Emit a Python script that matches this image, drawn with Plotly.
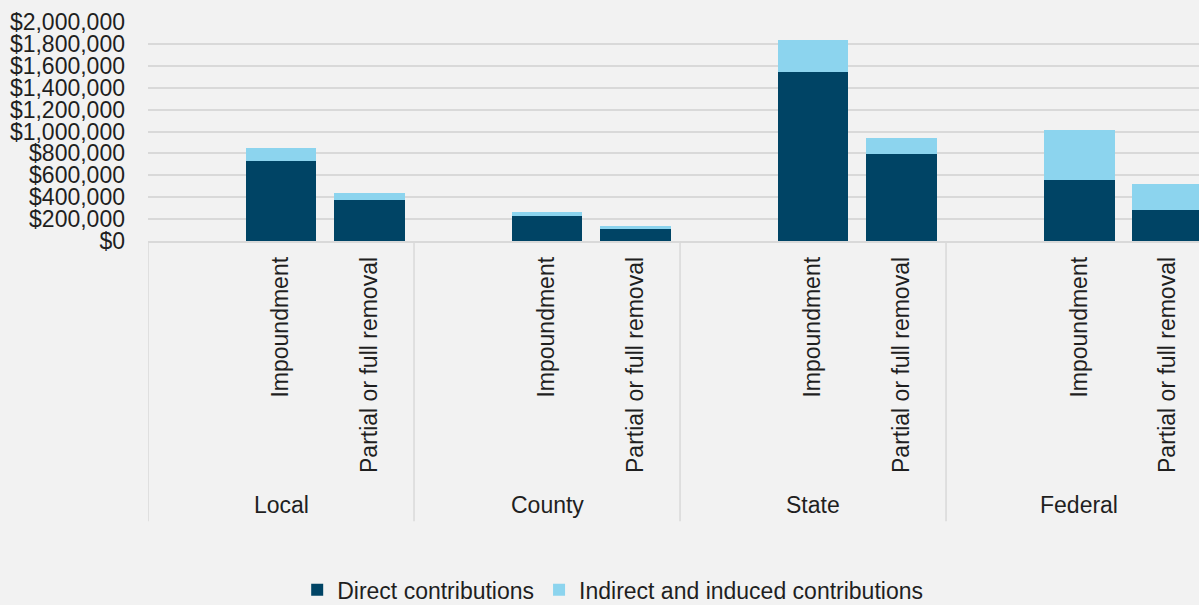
import plotly.graph_objects as go

groups = ["Local", "County", "State", "Federal"]
subcats = ["Impoundment", "Partial or full removal"]
direct = [730000, 374000, 228000, 114000, 1543000, 794000, 557000, 283000]
indirect = [119000, 64000, 37000, 23000, 292000, 146000, 457000, 237000]
y_ticks = list(range(0, 2000001, 200000))
y_tick_text = ["${:,}".format(v) for v in y_ticks]

# each group holds three slots: an empty one, then the two dam options
slots_per_group = 3
xpos = []
labels = []
for g in range(len(groups)):
    for s, name in enumerate(subcats):
        xpos.append(g * slots_per_group + 1 + s)
        labels.append(name)

FONT = "Liberation Sans"
FS = 23
TXT = "#1f1f1f"
BG = "#f2f2f2"
GRID = "#d9d9d9"

fig = go.Figure()
fig.add_trace(go.Bar(x=xpos, y=direct, name="Direct contributions",
                     marker=dict(color="#004465", line=dict(width=0)), width=0.8))
fig.add_trace(go.Bar(x=xpos, y=indirect, name="Indirect and induced contributions",
                     marker=dict(color="#8cd4ee", line=dict(width=0)), width=0.8))

shapes = []
annotations = []
for g in range(len(groups) + 1):
    shapes.append(dict(type="line", xref="x", yref="paper",
                       x0=g * slots_per_group - 0.5, x1=g * slots_per_group - 0.5,
                       y0=0, y1=-1.28, line=dict(color=GRID, width=1.5)))
for g, name in enumerate(groups):
    annotations.append(dict(text=name, xref="x", yref="paper",
                            x=g * slots_per_group + 1, y=-1.205,
                            showarrow=False, xanchor="center", yanchor="middle",
                            font=dict(family=FONT, size=FS, color=TXT)))

fig.update_layout(
    width=1199, height=605,
    margin=dict(l=148, r=0, t=22, b=364, autoexpand=False),
    paper_bgcolor=BG, plot_bgcolor=BG,
    barmode="stack",
    font=dict(family=FONT, size=FS, color=TXT),
    shapes=shapes,
    annotations=annotations,
    showlegend=True,
    legend=dict(orientation="h", xref="container", yref="container",
                x=0.511, xanchor="center", y=0.025, yanchor="middle",
                font=dict(family=FONT, size=FS, color=TXT),
                bgcolor="rgba(0,0,0,0)", itemwidth=30, traceorder="normal"),
)
fig.update_xaxes(range=[-0.5, -0.5 + (1199 - 148) / 88.67],
                 tickvals=xpos, ticktext=labels, tickangle=-90,
                 showgrid=False, zeroline=False, showline=True,
                 linecolor=GRID, linewidth=1.5, ticks="",
                 ticklabelstandoff=5,
                 tickfont=dict(family=FONT, size=FS, color=TXT))
fig.update_yaxes(range=[0, 2000000], tickvals=y_ticks, ticktext=y_tick_text,
                 showgrid=True, gridcolor=GRID, gridwidth=1.5,
                 zeroline=False, showline=False, ticks="",
                 ticklabelstandoff=22,
                 tickfont=dict(family=FONT, size=FS, color=TXT))

fig.write_html("out.html", config={"displayModeBar": False},
               post_script="document.body.style.margin='0';document.body.style.background='#f2f2f2';")
